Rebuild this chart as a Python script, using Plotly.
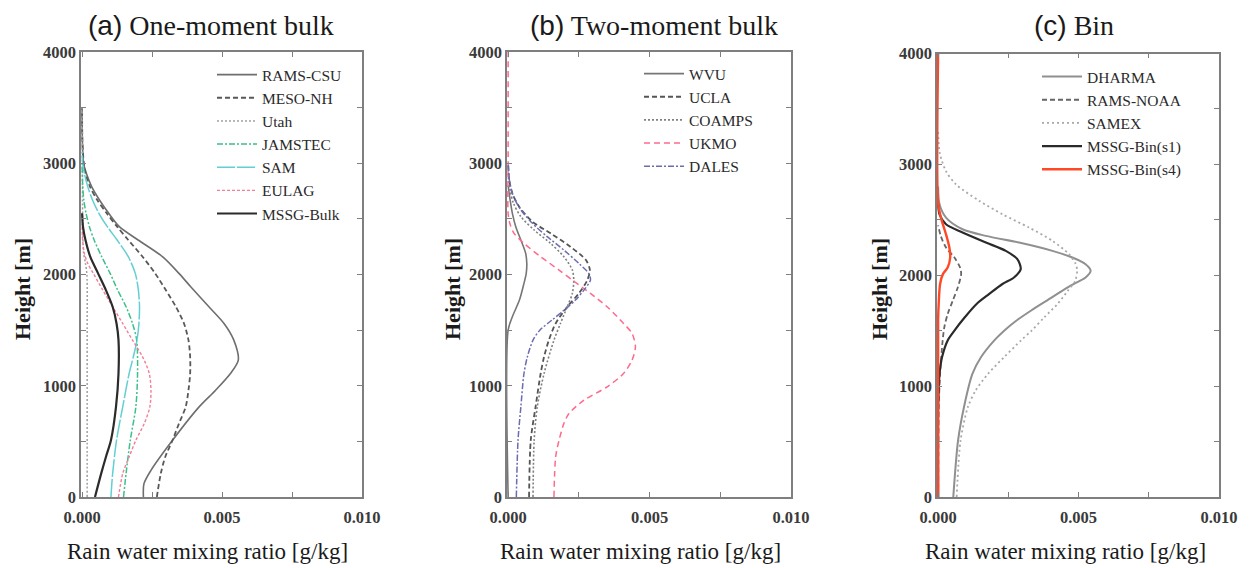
import plotly.graph_objects as go

# ---------------- data ----------------
# Panel (a) One-moment bulk : heights [m] and rain water mixing ratio [g/kg]
RAMS_CSU_H = [0, 120, 240, 510, 810, 960, 1110, 1230, 1410, 1560, 1710, 1890, 2010, 2160, 2310, 2430, 2550, 2670, 2790, 2910, 3000, 3200, 3500]
RAMS_CSU_Q = [0.00219, 0.00221, 0.00246, 0.00323, 0.00418, 0.00477, 0.00530, 0.00558, 0.00542, 0.00507, 0.00453, 0.00388, 0.00346, 0.00287, 0.00200, 0.00133, 0.00095, 0.00062, 0.00034, 0.00015, 0.00005, 0.00001, 0.0]

MESO_NH_H = [0, 210, 360, 510, 660, 810, 960, 1110, 1260, 1410, 1560, 1710, 1860, 2010, 2160, 2310, 2430, 2550, 2670, 2790, 2910, 3000, 3200, 3500]
MESO_NH_Q = [0.00267, 0.00281, 0.00297, 0.00323, 0.00346, 0.00370, 0.00380, 0.00386, 0.00386, 0.00380, 0.00364, 0.00335, 0.00299, 0.00261, 0.00216, 0.00165, 0.00125, 0.00088, 0.00054, 0.00028, 0.00012, 0.00006, 0.00001, 0.0]

UTAH_H = [0, 500, 1000, 1500, 2000, 2100, 2200, 2500, 3000, 3500]
UTAH_Q = [0.00018, 0.00018, 0.00018, 0.00018, 0.00017, 0.00012, 0.00005, 0.00002, 0.00001, 0.0]

JAMSTEC_H = [0, 210, 510, 810, 1110, 1410, 1560, 1710, 1860, 2010, 2160, 2310, 2430, 2550, 2670, 2800, 3000]
JAMSTEC_Q = [0.00148, 0.00157, 0.00172, 0.00192, 0.00198, 0.00195, 0.00180, 0.00157, 0.00127, 0.00100, 0.00070, 0.00043, 0.00026, 0.00014, 0.00006, 0.00002, 0.0]

SAM_H = [0, 210, 510, 810, 1110, 1260, 1410, 1560, 1710, 1860, 2010, 2160, 2310, 2430, 2550, 2670, 2790, 2910, 3000, 3100]
SAM_Q = [0.00103, 0.00109, 0.00123, 0.00145, 0.00168, 0.00183, 0.00196, 0.00203, 0.00205, 0.00201, 0.00190, 0.00165, 0.00125, 0.00090, 0.00060, 0.00037, 0.00020, 0.00008, 0.00002, 0.0]

EULAG_H = [0, 210, 360, 510, 660, 810, 960, 1110, 1260, 1410, 1560, 1710, 1860, 2010, 2100, 2190, 2300, 2450]
EULAG_Q = [0.00130, 0.00145, 0.00168, 0.00192, 0.00222, 0.00242, 0.00246, 0.00240, 0.00216, 0.00180, 0.00145, 0.00109, 0.00074, 0.00040, 0.00020, 0.00008, 0.00002, 0.0]

MSSG_BULK_H = [0, 210, 360, 510, 810, 1110, 1410, 1560, 1710, 1860, 2010, 2160, 2310, 2430, 2550]
MSSG_BULK_Q = [0.00046, 0.00068, 0.00085, 0.00103, 0.00121, 0.00130, 0.00130, 0.00123, 0.00109, 0.00085, 0.00057, 0.00029, 0.00012, 0.00003, 0.0]

# Panel (b) Two-moment bulk
WVU_H = [0, 1500, 1620, 1770, 1920, 2010, 2100, 2190, 2310, 2430, 2550, 2670, 2800]
WVU_Q = [0.0, 0.0, 0.00015, 0.00040, 0.00056, 0.00064, 0.00066, 0.00062, 0.00045, 0.00027, 0.00015, 0.00007, 0.0]

UCLA_H = [0, 510, 810, 1110, 1260, 1410, 1560, 1710, 1830, 1950, 2040, 2130, 2250, 2370, 2475, 2610, 2730, 2850, 3000]
UCLA_Q = [0.00074, 0.00080, 0.00097, 0.00115, 0.00127, 0.00144, 0.00168, 0.00209, 0.00250, 0.00280, 0.00289, 0.00275, 0.00220, 0.00150, 0.00086, 0.00039, 0.00015, 0.00004, 0.0]

COAMPS_H = [0, 510, 810, 1110, 1410, 1560, 1710, 1830, 1950, 2040, 2160, 2280, 2400, 2520, 2640, 2760, 2900]
COAMPS_Q = [0.00088, 0.00092, 0.00103, 0.00127, 0.00162, 0.00185, 0.00209, 0.00227, 0.00232, 0.00227, 0.00197, 0.00150, 0.00092, 0.00045, 0.00019, 0.00006, 0.0]

UKMO_H = [0, 360, 510, 660, 750, 870, 990, 1110, 1230, 1350, 1470, 1560, 1710, 1830, 1950, 2040, 2160, 2280, 2370, 2460, 2550, 3000, 4000]
UKMO_Q = [0.00162, 0.00168, 0.00180, 0.00197, 0.00215, 0.00268, 0.00350, 0.00408, 0.00438, 0.00450, 0.00438, 0.00408, 0.00350, 0.00291, 0.00227, 0.00180, 0.00115, 0.00056, 0.00021, 0.00006, 0.0, 0.0, 0.0]

DALES_H = [0, 510, 810, 1110, 1260, 1410, 1500, 1590, 1680, 1770, 1860, 1950, 2010, 2100, 2220, 2340, 2460, 2580, 2700, 2820, 3000]
DALES_Q = [0.00029, 0.00035, 0.00045, 0.00056, 0.00068, 0.00088, 0.00112, 0.00155, 0.00198, 0.00238, 0.00268, 0.00291, 0.00285, 0.00250, 0.00197, 0.00138, 0.00086, 0.00045, 0.00019, 0.00006, 0.0]

# Panel (c) Bin
DHARMA_H = [0, 510, 810, 1110, 1262, 1412, 1500, 1590, 1680, 1800, 1905, 1980, 2040, 2100, 2160, 2220, 2295, 2355, 2415, 2520, 2640, 2800]
DHARMA_Q = [0.00054, 0.00071, 0.00092, 0.00122, 0.00153, 0.00200, 0.00235, 0.00278, 0.00330, 0.00405, 0.00470, 0.00525, 0.00543, 0.00525, 0.00478, 0.00407, 0.00288, 0.00170, 0.00087, 0.00028, 0.00005, 0.0]

RAMS_NOAA_H = [0, 500, 800, 1110, 1410, 1530, 1650, 1770, 1890, 2010, 2070, 2160, 2250, 2350, 2450]
RAMS_NOAA_Q = [0.0, 0.00001, 0.00002, 0.00007, 0.00016, 0.00022, 0.00034, 0.00052, 0.00070, 0.00082, 0.00078, 0.00058, 0.00028, 0.00010, 0.0]

SAMEX_H = [0, 512, 812, 962, 1112, 1262, 1412, 1501, 1621, 1741, 1861, 1950, 2040, 2100, 2190, 2310, 2430, 2550, 2670, 2819, 2939, 3100, 3300]
SAMEX_Q = [0.00066, 0.00080, 0.00106, 0.00134, 0.00178, 0.00235, 0.00295, 0.00333, 0.00378, 0.00425, 0.00462, 0.00488, 0.00495, 0.00490, 0.00466, 0.00407, 0.00324, 0.00229, 0.00147, 0.00064, 0.00028, 0.00006, 0.0]

MSSG_BIN_S1_H = [0, 800, 962, 1112, 1262, 1412, 1501, 1621, 1741, 1831, 1921, 1980, 2055, 2145, 2220, 2295, 2385, 2460, 2550, 2650]
MSSG_BIN_S1_Q = [0.0, 0.0, 0.00002, 0.00005, 0.00014, 0.00034, 0.00058, 0.00095, 0.00137, 0.00182, 0.00229, 0.00270, 0.00294, 0.00282, 0.00241, 0.00170, 0.00087, 0.00028, 0.00005, 0.0]

MSSG_BIN_S4_H = [0, 1600, 1741, 1921, 2010, 2070, 2160, 2250, 2370, 2520, 2650, 4000]
MSSG_BIN_S4_Q = [0.0, 0.0, 0.00002, 0.00007, 0.00017, 0.00034, 0.00043, 0.00040, 0.00028, 0.00010, 0.0, 0.0]

PANEL_TITLES = ["(a)", "(b)", "(c)"]
PANEL_NAMES = ["One-moment bulk", "Two-moment bulk", "Bin"]
X_TICKS = [0.0, 0.005, 0.010]
Y_TICKS = [0, 1000, 2000, 3000, 4000]
X_LABEL = "Rain water mixing ratio [g/kg]"
Y_LABEL = "Height [m]"

# ---------------- styling ----------------
SERIF = "Liberation Serif, Times New Roman, serif"
SANS = "Liberation Sans, Arial, sans-serif"
W, H = 1250, 568

series = [
    # panel, name, heights, values, color, dash, width
    (1, "RAMS-CSU", RAMS_CSU_H, RAMS_CSU_Q, "#6e6e6e", "solid", 1.6),
    (1, "MESO-NH", MESO_NH_H, MESO_NH_Q, "#585858", "5px,3px", 1.8),
    (1, "Utah", UTAH_H, UTAH_Q, "#a0a0a0", "2px,2px", 1.5),
    (1, "JAMSTEC", JAMSTEC_H, JAMSTEC_Q, "#3dbf8a", "6px,2px,2px,2px", 1.5),
    (1, "SAM", SAM_H, SAM_Q, "#62cfd2", "18px,2px", 1.5),
    (1, "EULAG", EULAG_H, EULAG_Q, "#f27f97", "3px,2px", 1.4),
    (1, "MSSG-Bulk", MSSG_BULK_H, MSSG_BULK_Q, "#2b2b2b", "solid", 2.2),
    (2, "WVU", WVU_H, WVU_Q, "#767676", "solid", 1.6),
    (2, "UCLA", UCLA_H, UCLA_Q, "#555555", "5px,3px", 1.8),
    (2, "COAMPS", COAMPS_H, COAMPS_Q, "#808080", "2px,2px", 1.6),
    (2, "UKMO", UKMO_H, UKMO_Q, "#ff6a8c", "6px,4px", 1.5),
    (2, "DALES", DALES_H, DALES_Q, "#6c6cb2", "6px,2px,2px,2px", 1.5),
    (3, "DHARMA", DHARMA_H, DHARMA_Q, "#909090", "solid", 2.0),
    (3, "RAMS-NOAA", RAMS_NOAA_H, RAMS_NOAA_Q, "#666666", "5px,3px", 1.8),
    (3, "SAMEX", SAMEX_H, SAMEX_Q, "#a8a8a8", "2px,3px", 1.8),
    (3, "MSSG-Bin(s1)", MSSG_BIN_S1_H, MSSG_BIN_S1_Q, "#2a2a2a", "solid", 2.2),
    (3, "MSSG-Bin(s4)", MSSG_BIN_S4_H, MSSG_BIN_S4_Q, "#ff4826", "solid", 2.4),
]

fig = go.Figure()
for panel, name, hh, qq, color, dash, width in series:
    suffix = "" if panel == 1 else str(panel)
    fig.add_trace(go.Scatter(
        x=qq, y=hh, mode="lines", name=name,
        line=dict(color=color, dash=dash, width=width, shape="spline", smoothing=0.8),
        xaxis="x" + suffix, yaxis="y" + suffix,
        legend="legend" + suffix,
    ))

# pixel geometry of the three plot frames: (left, right, top, bottom)
frames = [(81, 362, 52, 497), (507, 791, 52, 497), (937, 1219, 53.5, 497)]

def px_x(p):
    return p / W

def px_y(p):
    return 1 - p / H

axis_color = "#7f7f7f"
tickfont = dict(family=SERIF, size=16.5, color="#3a3a3a", weight="bold")
layout = dict(
    width=W, height=H,
    margin=dict(l=0, r=0, t=0, b=0, autoexpand=False),
    paper_bgcolor="white", plot_bgcolor="white",
    showlegend=True,
)

for i, (l, r, t, b) in enumerate(frames):
    sfx = "" if i == 0 else str(i + 1)
    layout["xaxis" + sfx] = dict(
        domain=[px_x(l), px_x(r)], anchor="y" + sfx, automargin=False,
        range=[-0.00004, 0.010], tickvals=X_TICKS, tickformat=".3f",
        ticks="inside", ticklen=5, tickwidth=1, tickcolor=axis_color,
        minor=dict(dtick=0.0025, tick0=0, ticks="inside", ticklen=5, tickwidth=1, tickcolor=axis_color),
        showline=True, linecolor=axis_color, linewidth=1.5, mirror="ticks",
        showgrid=False, zeroline=False, ticklabelstandoff=4,
        tickfont=tickfont,
    )
    layout["yaxis" + sfx] = dict(
        domain=[px_y(b), px_y(t)], anchor="x" + sfx, automargin=False,
        range=[0, 4000], tickvals=Y_TICKS, tickformat="d",
        ticks="inside", ticklen=5, tickwidth=1, tickcolor=axis_color,
        minor=dict(dtick=500, tick0=0, ticks="inside", ticklen=5, tickwidth=1, tickcolor=axis_color),
        showline=True, linecolor=axis_color, linewidth=1.5, mirror="ticks",
        showgrid=False, zeroline=False,
        tickfont=tickfont,
    )

legend_pos = [(212, 58), (639, 57), (1037, 60)]
for i, (lx, ty) in enumerate(legend_pos):
    key = "legend" if i == 0 else "legend" + str(i + 1)
    layout[key] = dict(
        x=px_x(lx), y=px_y(ty), xanchor="left", yanchor="top",
        bgcolor="rgba(0,0,0,0)", borderwidth=0,
        font=dict(family=SERIF, size=15.5, color="#2a2a2a"),
        itemwidth=40, tracegroupgap=0,
    )

annotations = []
title_x = [211, 654, 1074]
xlab_x = [207, 640, 1065]
ylab_x = [22, 452, 879]
for i in range(3):
    annotations.append(dict(
        x=px_x(title_x[i]), y=px_y(25), xref="paper", yref="paper",
        xanchor="center", yanchor="middle", showarrow=False,
        text='<span style="font-family:Liberation Sans, Arial, sans-serif">' + PANEL_TITLES[i] + '</span> ' + PANEL_NAMES[i],
        font=dict(family=SERIF, size=28, color="#1a1a1a"),
    ))
    annotations.append(dict(
        x=px_x(xlab_x[i]), y=px_y(551), xref="paper", yref="paper",
        xanchor="center", yanchor="middle", showarrow=False,
        text=X_LABEL, font=dict(family=SERIF, size=23, color="#1a1a1a"),
    ))
    annotations.append(dict(
        x=px_x(ylab_x[i]), y=px_y(289), xref="paper", yref="paper",
        xanchor="center", yanchor="middle", showarrow=False, textangle=-90,
        text="<b>" + Y_LABEL + "</b>", font=dict(family=SERIF, size=22, color="#1a1a1a"),
    ))
layout["annotations"] = annotations

fig.update_layout(**layout)
fig.write_html("out.html")
